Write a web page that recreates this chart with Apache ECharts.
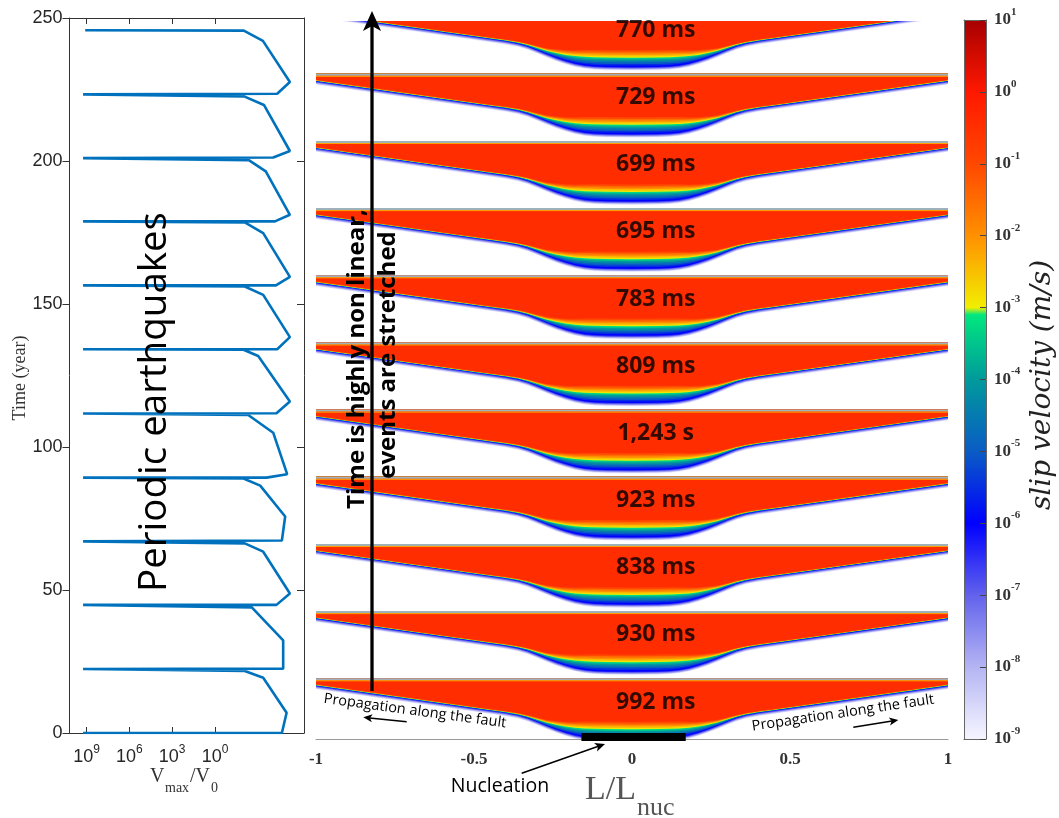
<!DOCTYPE html>
<html>
<head>
<meta charset="utf-8">
<script src="https://cdn.jsdelivr.net/npm/echarts@6/dist/echarts.min.js"></script>
<style>
html, body { margin: 0; padding: 0; background: #fff; }
#main { width: 1059px; height: 818px; }
</style>
</head>
<body>
<div id="main"></div>
<script>
// left panel: max slip rate (log10 Vmax/V0) against time
var timeYears = [0, 0, 7.1, 19.3, 21.7, 22.4,
    22.5, 32.4, 43.9, 44.8,
    44.8, 48.8, 63.4, 66.3, 67.0,
    67.3, 75.7, 86.5, 89.0, 89.3,
    89.3, 90.5, 105.0, 111.2, 111.7,
    111.8, 115.9, 131.8, 134.0, 134.2,
    134.2, 138.4, 153.2, 156.1, 156.5,
    156.5, 159.5, 174.8, 178.5, 178.9,
    178.9, 181.2, 196.4, 200.3, 201.0,
    201.2, 203.5, 219.6, 222.6, 223.3,
    223.5, 227.6, 242.0, 245.6, 245.7];
var logVmax = [9.25, -4.69, -5.02, -3.38, -2.09, 9.25,
    -4.78, -4.78, -2.58, 9.25,
    -4.31, -5.25, -3.38, -2.09, 9.25,
    -4.69, -4.92, -3.17, -2.0, 9.25,
    -3.61, -5.06, -4.08, -2.33, 9.25,
    -4.31, -5.25, -3.03, -2.0, 9.25,
    -4.36, -5.25, -3.38, -2.09, 9.25,
    -4.27, -5.25, -3.38, -2.09, 9.25,
    -4.20, -5.25, -3.56, -2.37, 9.25,
    -4.08, -5.25, -3.43, -2.04, 9.25,
    -4.36, -5.25, -3.36, -2.02, 9.1];
var vTicks = [0, 3, 6, 9];

// right panel: one band per event, bottom (k=0) to top
var eventDurations = ['992 ms', '930 ms', '838 ms', '923 ms', '1,243 s', '809 ms',
    '783 ms', '695 ms', '699 ms', '729 ms', '770 ms'];
// half rupture profile (L/Lnuc <= 0), depth below band top and width of the slip front, in band units
var profileL = [-1, -0.8, -0.6, -0.45, -0.4, -0.36, -0.33, -0.3, -0.27, -0.24, -0.21, -0.18, -0.15, -0.12, -0.08, 0];
var ruptureDepth = [0.112, 0.246, 0.380, 0.481, 0.515, 0.551, 0.593, 0.648, 0.707, 0.762, 0.810, 0.849, 0.876, 0.890, 0.898, 0.901];
var frontWidth = [0.022, 0.022, 0.022, 0.024, 0.027, 0.033, 0.045, 0.063, 0.089, 0.127, 0.164, 0.201, 0.231, 0.246, 0.253, 0.253];
var slipLevels = [-9, -8.5, -8, -7.5, -7, -6.5, -6, -5.5, -5, -4.5, -4, -3.5, -3.1, -2.9, -2.5, -2, -1.5, -1, -0.45];
var nucleationZone = [-0.16, 0.17];

// colour bar (log10 slip velocity, m/s)
var cbValues = [-9, -8, -7, -6, -5, -4, -3.02, -3, -2, -1, 0, 1];
var cbColors = ['#f6f6ff', '#b4b4f4', '#6262ec', '#0000ff', '#0a5cc4', '#009a9c', '#00ee7c',
    '#f2ee00', '#ff9000', '#ff4800', '#ff1800', '#a60000'];

var bandTop = 0.904, haloWidth = 0.052, redLevel = -0.45;

function hex(c) {
    return [parseInt(c.substr(1, 2), 16), parseInt(c.substr(3, 2), 16), parseInt(c.substr(5, 2), 16)];
}
function sampleColor(v) {
    for (var i = 0; i < cbValues.length - 1; i++) {
        if (v <= cbValues[i + 1]) {
            var t = (v - cbValues[i]) / (cbValues[i + 1] - cbValues[i]);
            var a = hex(cbColors[i]), b = hex(cbColors[i + 1]);
            return 'rgb(' + a.map(function (x, j) { return Math.round(x + (b[j] - x) * t); }).join(',') + ')';
        }
    }
    return cbColors[cbColors.length - 1];
}
var barColors = [];
for (var i = 0; i <= 500; i++) barColors.push(sampleColor(-9 + i * 0.02));

// mirror the half profile
var fullL = [], fullDepth = [], fullFront = [];
profileL.forEach(function (l, i) {
    fullL.push(l); fullDepth.push(ruptureDepth[i]); fullFront.push(frontWidth[i]);
});
for (i = profileL.length - 2; i >= 0; i--) {
    fullL.push(-profileL[i]); fullDepth.push(ruptureDepth[i]); fullFront.push(frontWidth[i]);
}

var bandData = [];
eventDurations.forEach(function (d, k) {
    slipLevels.forEach(function (lv) { bandData.push([k, lv]); });
});

function edgeDepth(j, lv) {
    if (lv <= -6) return fullDepth[j] + haloWidth * (-6 - lv) / 3;
    return fullDepth[j] - fullFront[j] * (lv + 6) / (redLevel + 6);
}

function renderBand(params, api) {
    var k = api.value(0), lv = api.value(1);
    var top = k + bandTop;
    var pts = [api.coord([-1, top]), api.coord([1, top])];
    for (var j = fullL.length - 1; j >= 0; j--) {
        pts.push(api.coord([fullL[j], top - edgeDepth(j, lv)]));
    }
    var children = [{
        type: 'polygon',
        shape: {points: pts},
        style: {fill: api.visual('color')}
    }];
    if (lv === redLevel) {
        var a = pts[0], b = pts[1];
        children.push({type: 'line', shape: {x1: a[0], y1: a[1] + 1, x2: b[0], y2: b[1] + 1},
            style: {stroke: '#9fb2bb', lineWidth: 2}});
        children.push({type: 'line', shape: {x1: a[0], y1: a[1] + 2.5, x2: b[0], y2: b[1] + 2.5},
            style: {stroke: '#ffa800', lineWidth: 1}});
    }
    return {type: 'group', children: children};
}

function arrow(x1, y1, x2, y2, w, head) {
    var a = Math.atan2(y2 - y1, x2 - x1);
    var hx = x2 - head * Math.cos(a), hy = y2 - head * Math.sin(a);
    var px = Math.sin(a) * head * 0.45, py = -Math.cos(a) * head * 0.45;
    return [
        {type: 'line', z: 100, shape: {x1: x1, y1: y1, x2: hx + head * 0.3 * Math.cos(a), y2: hy + head * 0.3 * Math.sin(a)},
            style: {stroke: '#000', lineWidth: w}},
        {type: 'polygon', z: 100, shape: {points: [[x2, y2], [hx + px, hy + py], [hx + head * 0.25 * Math.cos(a), hy + head * 0.25 * Math.sin(a)], [hx - px, hy - py]]},
            style: {fill: '#000'}}
    ];
}

function txt(s, x, y, font, opts) {
    var el = {type: 'text', z: 100, x: x, y: y,
        style: {text: s, font: font, fill: '#000', align: 'center', verticalAlign: 'middle'}};
    if (opts) {
        if (opts.rotation != null) el.rotation = opts.rotation;
        if (opts.fill) el.style.fill = opts.fill;
        if (opts.align) el.style.align = opts.align;
    }
    return el;
}

var supRich = {
    b: {fontFamily: 'Liberation Sans', fontSize: 18, color: '#262626', lineHeight: 26, verticalAlign: 'middle'},
    s: {fontFamily: 'Liberation Sans', fontSize: 12, color: '#262626', lineHeight: 12, verticalAlign: 'top'}
};
var cbRich = {
    b: {fontFamily: 'Liberation Serif', fontWeight: 'bold', fontSize: 17, color: '#333', lineHeight: 27, verticalAlign: 'middle'},
    s: {fontFamily: 'Liberation Serif', fontWeight: 'bold', fontSize: 11, color: '#333', lineHeight: 11, verticalAlign: 'top'}
};

var serif = '"Liberation Serif"';
var graphics = [
    txt('Periodic earthquakes', 155, 402, '38.5px "Open Sans"', {rotation: Math.PI / 2}),
    txt('Time (year)', 20, 378, '18px ' + serif, {rotation: Math.PI / 2, fill: '#333'}),
    txt('V', 150, 777, '20px ' + serif, {fill: '#333', align: 'left'}),
    txt('max', 165, 788, '14px ' + serif, {fill: '#333', align: 'left'}),
    txt('/V', 190, 777, '20px ' + serif, {fill: '#333', align: 'left'}),
    txt('0', 211, 788, '14px ' + serif, {fill: '#333', align: 'left'}),
    txt('Time is highly non linear,', 357, 359, 'bold 24px "Open Sans"', {rotation: Math.PI / 2}),
    txt('events are stretched', 388, 355, 'bold 24px "Open Sans"', {rotation: Math.PI / 2}),
    txt('Propagation along the fault', 415, 711, '14.5px "Open Sans"', {rotation: -0.135}),
    txt('Propagation along the fault', 843, 713, '14.5px "Open Sans"', {rotation: 0.148}),
    txt('Nucleation', 500, 786, '19.5px "Open Sans"'),
    txt('L/L', 636, 790, '34px ' + serif, {fill: '#555', align: 'right'}),
    txt('nuc', 637, 808, '26px ' + serif, {fill: '#555', align: 'left'}),
    txt('slip velocity (m/s)', 1043, 385, 'italic 28px "DejaVu Serif"', {rotation: Math.PI / 2, fill: '#222'})
].concat(arrow(372, 691, 372, 11, 3.3, 20))
 .concat(arrow(406.7, 721.7, 363.3, 717.3, 1.5, 9))
 .concat(arrow(853.3, 727.3, 898.3, 720, 1.5, 9))
 .concat(arrow(521.7, 773.3, 605, 744, 1.5, 10));

var option = {
    animation: false,
    backgroundColor: '#fff',
    grid: [
        {left: 69.5, right: 755, top: 18, bottom: 85},
        {left: 316, right: 111, top: 21, bottom: 79},
        {left: 964, right: 73, top: 20, bottom: 79}
    ],
    xAxis: [
        {gridIndex: 0, type: 'value', min: -6.24, max: 10.2, inverse: true, position: 'bottom',
            axisLine: {onZero: false, lineStyle: {color: '#333'}},
            axisTick: {inside: true, length: 6, customValues: vTicks, lineStyle: {color: '#333'}},
            axisLabel: {customValues: vTicks, margin: 11, rich: supRich,
                formatter: function (v) { return '{b|10}{s|' + v + '}'; }},
            splitLine: {show: false}},
        {gridIndex: 0, type: 'value', min: -6.24, max: 10.2, inverse: true, position: 'top',
            axisLine: {onZero: false, lineStyle: {color: '#333'}},
            axisTick: {inside: true, length: 6, customValues: vTicks, lineStyle: {color: '#333'}},
            axisLabel: {show: false}, splitLine: {show: false}},
        {gridIndex: 1, type: 'value', min: -1, max: 1, interval: 0.5,
            axisLine: {onZero: false, lineStyle: {color: '#999'}},
            axisTick: {show: false},
            axisLabel: {margin: 12, fontFamily: 'Liberation Serif', fontWeight: 'bold', fontSize: 17, color: '#333'},
            splitLine: {show: false}},
        {gridIndex: 2, type: 'value', position: 'bottom', z: 10,
            axisLine: {onZero: false, lineStyle: {color: '#666'}}, axisTick: {show: false}, axisLabel: {show: false}, splitLine: {show: false}},
        {gridIndex: 2, type: 'value', position: 'top', z: 10,
            axisLine: {onZero: false, lineStyle: {color: '#666'}}, axisTick: {show: false}, axisLabel: {show: false}, splitLine: {show: false}}
    ],
    yAxis: [
        {gridIndex: 0, type: 'value', min: 0, max: 250, interval: 50,
            axisLine: {show: true, onZero: false, lineStyle: {color: '#333'}},
            axisTick: {show: true, length: 7, lineStyle: {color: '#333'}},
            axisLabel: {margin: 7, fontFamily: 'Liberation Sans', fontSize: 18, color: '#262626'},
            splitLine: {show: false}},
        {gridIndex: 0, type: 'value', min: 0, max: 250, interval: 50, position: 'right',
            axisLine: {show: true, onZero: false, lineStyle: {color: '#333'}},
            axisTick: {show: true, inside: true, length: 7, lineStyle: {color: '#333'}},
            axisLabel: {show: false}, splitLine: {show: false}},
        {gridIndex: 1, type: 'value', min: 0, max: 10.69, show: false, splitLine: {show: false}},
        {gridIndex: 2, type: 'value', min: -9, max: 1, interval: 1, position: 'right', z: 10,
            axisLine: {show: true, onZero: false, lineStyle: {color: '#666'}},
            axisTick: {show: true, inside: true, length: 6, lineStyle: {color: '#444'}},
            axisLabel: {margin: 8, rich: cbRich,
                formatter: function (v) { return '{b|10}{s|' + v + '}'; }},
            splitLine: {show: false}},
        {gridIndex: 2, type: 'value', min: -9, max: 1, position: 'left', z: 10,
            axisLine: {show: true, onZero: false, lineStyle: {color: '#666'}},
            axisTick: {show: false}, axisLabel: {show: false}, splitLine: {show: false}}
    ],
    visualMap: {
        type: 'continuous', min: -9, max: 1, dimension: 1, seriesIndex: 1,
        left: 964, top: 20, padding: 0, itemWidth: 22, itemHeight: 719,
        calculable: false, hoverLink: false, text: null, showLabel: false,
        inRange: {color: barColors}
    },
    graphic: graphics,
    series: [
        {type: 'line', xAxisIndex: 0, yAxisIndex: 0, symbol: 'none', z: 3,
            lineStyle: {color: '#0072BD', width: 2.6},
            data: timeYears.map(function (t, i) { return [logVmax[i], t]; })},
        {type: 'custom', xAxisIndex: 2, yAxisIndex: 2, clip: true, silent: true,
            renderItem: renderBand, data: bandData},
        {type: 'line', xAxisIndex: 2, yAxisIndex: 2, symbol: 'none', z: 5, silent: true,
            lineStyle: {color: '#000', width: 8, cap: 'butt'},
            data: [[nucleationZone[0], 0.03], [nucleationZone[1], 0.03]]},
        {type: 'scatter', xAxisIndex: 2, yAxisIndex: 2, symbolSize: 1, z: 6, silent: true,
            itemStyle: {color: 'transparent'},
            label: {show: true, position: 'inside', fontFamily: 'Open Sans', fontWeight: 'bold', fontSize: 23, color: '#000',
                formatter: function (p) { return p.value[2]; }},
            data: eventDurations.map(function (d, k) { return [0.075, k + 0.55, d]; })}
    ]
};

var chart = echarts.init(document.getElementById('main'));
chart.setOption(option);
</script>
</body>
</html>
